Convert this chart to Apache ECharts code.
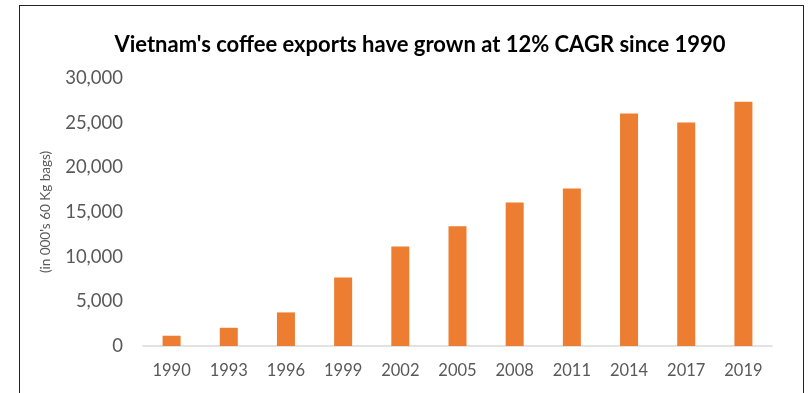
<!DOCTYPE html>
<html><head><meta charset="utf-8">
<script src="https://cdn.jsdelivr.net/npm/echarts@6/dist/echarts.min.js"></script>
<style>html,body{margin:0;padding:0;background:#fff}#c{width:810px;height:393px}
#frame{position:absolute;left:19px;top:5px;width:785px;height:400px;border:1.5px solid #222;border-bottom:none;box-sizing:border-box;pointer-events:none}</style>
</head><body><div id="c"></div><div id="frame"></div>
<script>
const categories = ['1990','1993','1996','1999','2002','2005','2008','2011','2014','2017','2019'];
const exportsValues = [1150, 2040, 3760, 7680, 11130, 13400, 16060, 17630, 26040, 25030, 27340];
const yTicks = [0, 5000, 10000, 15000, 20000, 25000, 30000];
const chart = echarts.init(document.getElementById('c'));
chart.setOption({
  animation:false,
  title:{text:"Vietnam's coffee exports have grown at 12% CAGR since 1990",left:415,textAlign:'center',top:29,
    textStyle:{fontFamily:'Lato',fontWeight:'bold',fontSize:22,color:'#000'}},
  grid:{left:143,right:38,top:78,bottom:47},
  xAxis:{type:'category',data:categories,
    axisLine:{lineStyle:{color:'#d9d9d9',width:1.5}},axisTick:{show:false},
    axisLabel:{fontFamily:'Lato',fontSize:16.5,color:'#595959',margin:16}},
  yAxis:{type:'value',min:yTicks[0],max:yTicks[yTicks.length-1],interval:5000,
    name:"(in 000's 60 Kg bags)",nameLocation:'middle',nameGap:90,
    nameTextStyle:{fontFamily:'Lato',fontSize:13.5,color:'#595959'},
    splitLine:{show:false},axisLine:{show:false},axisTick:{show:false},
    axisLabel:{fontFamily:'Lato',fontSize:18.5,color:'#595959',margin:20,
      formatter:v=>v.toLocaleString('en-US')}},
  series:[{type:'bar',data:exportsValues,barWidth:18,itemStyle:{color:'#ed7d31'}}]
});
</script></body></html>
